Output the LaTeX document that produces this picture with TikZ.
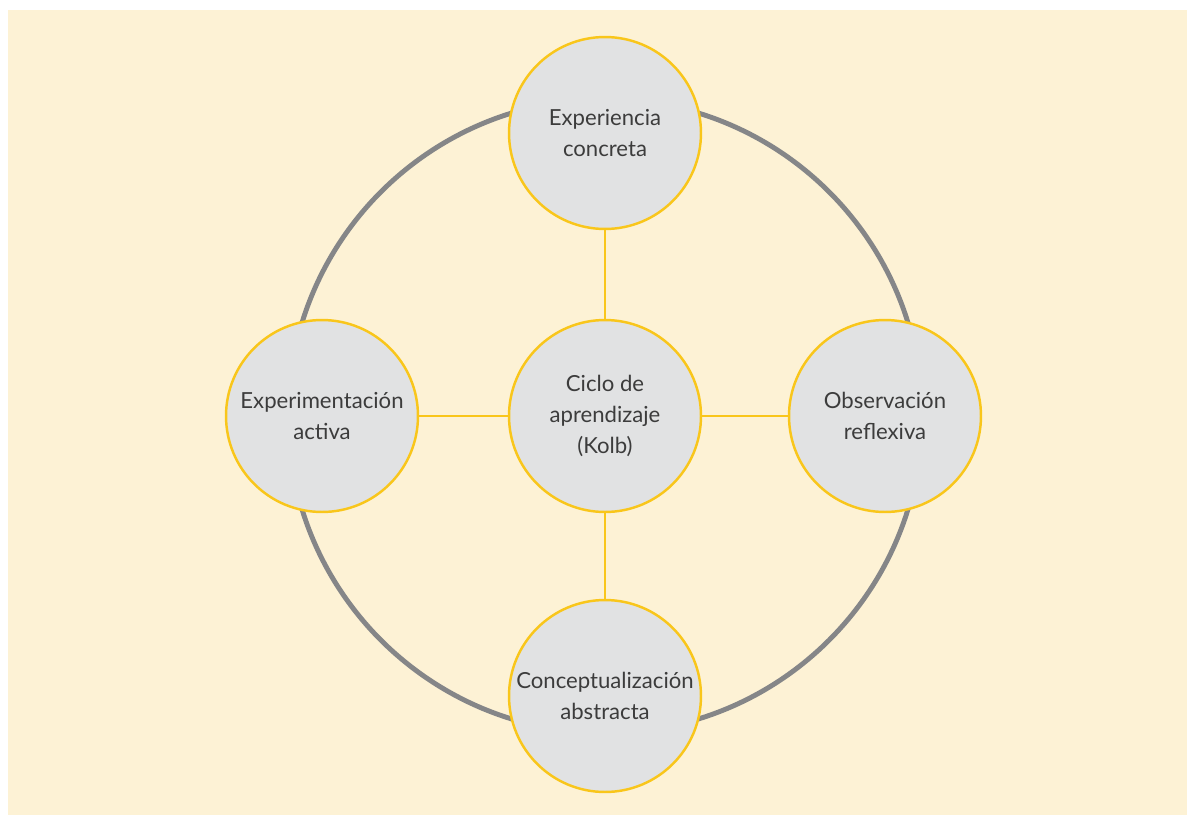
\documentclass[tikz,border=0pt]{standalone}
\usepackage{fontspec}
\setmainfont{Lato}
\definecolor{cream}{HTML}{FDF2D5}
\definecolor{stagefill}{HTML}{E1E2E3}
\definecolor{stageline}{HTML}{F9C61B}
\definecolor{ringgray}{HTML}{858688}
\definecolor{textgray}{HTML}{3C3C3C}
\tikzset{
	stage/.style={shape=circle, draw=stageline, fill=stagefill, line width=1.4pt, minimum size=3.84cm, inner sep=0, align=center, text=textgray, font=\fontsize{12.6}{17.6}\selectfont},
	ring/.style={shape=circle, draw=ringgray, line width=2.8pt, minimum size=12.68cm, inner sep=0},
	link/.style={draw=stageline, line width=1.4pt},
}

\begin{document}
\begin{tikzpicture}[x=0.02cm, y=-0.02cm]
	% Background:
	\useasboundingbox (0, 0) rectangle (1187, 815);
	\fill[cream] (8, 10) rectangle (1187, 815);
	% Cycle and stages:
	\node[ring](Cycle) at (605, 416){};
	\node[stage](Kolb) at (605, 416){Ciclo de\\aprendizaje\\(Kolb)};
	\node[stage](Concrete) at (605, 133){Experiencia\\concreta};
	\node[stage](Reflective) at (885, 416){Observación\\reflexiva};
	\node[stage](Abstract) at (605, 696){Conceptualización\\abstracta};
	\node[stage](Active) at (322, 416){Experimentación\\activa};
	% Links:
	\draw[link] (Kolb) -- (Concrete);
	\draw[link] (Kolb) -- (Reflective);
	\draw[link] (Kolb) -- (Abstract);
	\draw[link] (Kolb) -- (Active);
\end{tikzpicture}
\end{document}
